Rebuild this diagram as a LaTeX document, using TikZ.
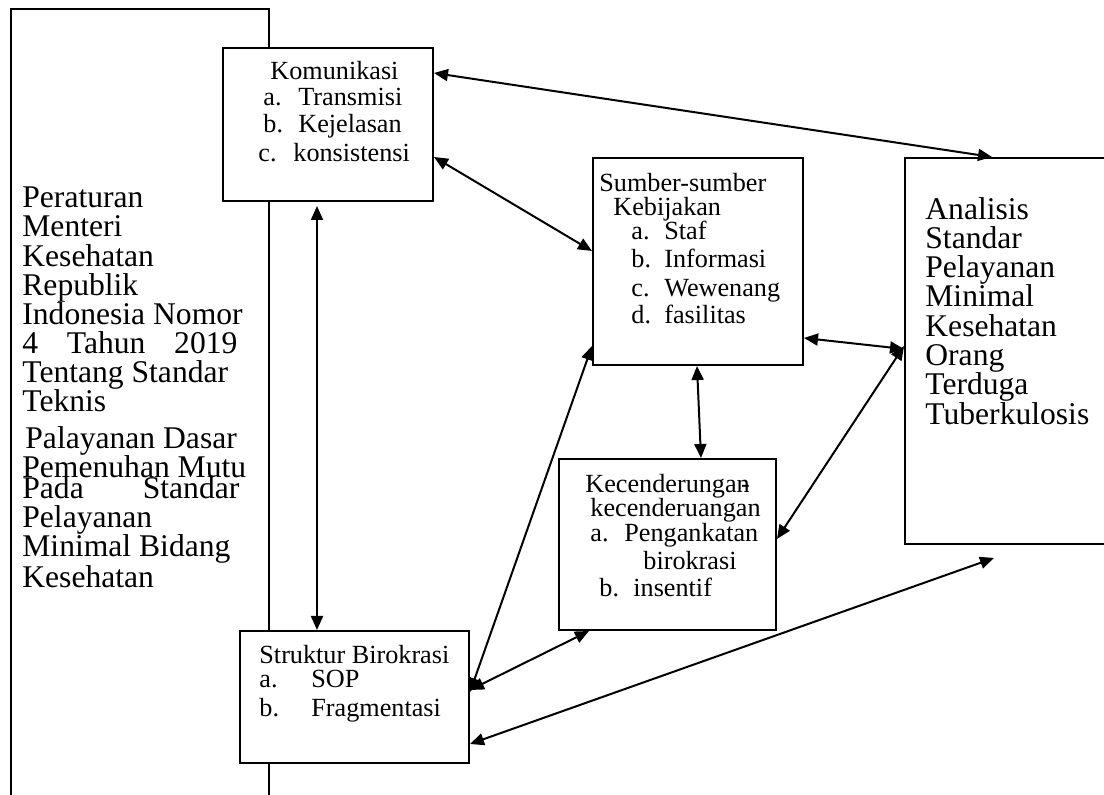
\documentclass[tikz,border=0pt]{standalone}
\usepackage{fontspec}
\setmainfont{Liberation Serif}
\usepackage{tikz}
\usetikzlibrary{arrows.meta}

\tikzset{
  box/.style={draw, fill=white, line width=1pt, inner sep=0pt},
  txt/.style={anchor=base west, inner sep=0pt, font=\fontsize{13.1}{13.5}\selectfont},
  bigtxt/.style={anchor=base west, inner sep=0pt, font=\fontsize{15.8}{16}\selectfont},
  link/.style={line width=1pt, {Triangle[length=7pt,width=6pt]}-{Triangle[length=7pt,width=6pt]}},
}
\newcommand{\lab}[2][17pt]{\makebox[#1][l]{#2}}

\begin{document}
\begin{tikzpicture}[x=0.5pt, y=-0.5pt]
\useasboundingbox (0,0) rectangle (1104,795);
\clip (0,0) rectangle (1104,795);
% frame on the left, open at the bottom
\node[box, fill=none, minimum width=129pt, minimum height=405.5pt] (peraturan) at (140,414.5) {};
\node[box, minimum width=105pt, minimum height=76.5pt] (komunikasi) at (328,124.5) {};
\node[box, minimum width=105pt, minimum height=103.5pt] (sumber) at (698,261.5) {};
\node[box, minimum width=108.5pt, minimum height=85.5pt] (kecenderungan) at (667.5,544.5) {};
\node[box, minimum width=114.5pt, minimum height=66pt] (struktur) at (354.5,697) {};
\node[box, minimum width=110pt, minimum height=193pt] (analisis) at (1015,351) {};

% texts
\foreach \x/\y/\t [count=\i] in {22/208/Peraturan, 22/237/Menteri, 22/267/Kesehatan, 22/296/Republik,
    22/325/Indonesia Nomor, 22/354/{\makebox[107.5pt][s]{4 Tahun 2019}}, 22/383/Tentang Standar, 22/412/Teknis,
    25/449/Palayanan Dasar, 22/478/Pemenuhan Mutu, 22/499/{\makebox[108.5pt][s]{Pada Standar}},
    22/528/Pelayanan, 22/557/Minimal Bidang, 22/588/Kesehatan}
  \node[bigtxt] (kiri\i) at (\x,\y) {\t};
\foreach \y/\t [count=\i] in {220/Analisis, 249/Standar, 278/Pelayanan, 307/Minimal,
    337/Kesehatan, 366/Orang, 395/Terduga, 425/Tuberkulosis}
  \node[bigtxt] (kanan\i) at (925,\y) {\t};
\foreach \x/\y/\t [count=\i] in {270/80/Komunikasi, 263/106/{\lab[17.5pt]{a.}Transmisi},
    263/133/{\lab[17.5pt]{b.}Kejelasan}, 258/162/{\lab[17.5pt]{c.}konsistensi}}
  \node[txt] (kom\i) at (\x,\y) {\t};
\foreach \x/\y/\t [count=\i] in {599/192/Sumber-sumber, 613/216/Kebijakan, 631/240/{\lab[16.5pt]{a.}Staf},
    631/268/{\lab[16.5pt]{b.}Informasi}, 631/297/{\lab[16.5pt]{c.}Wewenang}, 631/324/{\lab[16.5pt]{d.}fasilitas}}
  \node[txt] (sum\i) at (\x,\y) {\t};
\foreach \x/\y/\t [count=\i] in {585/493/{Kecenderungan\llap{-}}, 590/517/kecenderuangan,
    590/542/{\lab{a.}Pengankatan}, 643/570/birokrasi, 599/597/{\lab{b.}insentif}}
  \node[txt] (kec\i) at (\x,\y) {\t};
\foreach \y/\t [count=\i] in {664/Struktur Birokrasi, 688/{\lab[26pt]{a.}SOP}, 717/{\lab[26pt]{b.}Fragmentasi}}
  \node[txt] (str\i) at (259,\y) {\t};

% connectors
\draw[link] ([yshift=-13pt]komunikasi.north east) -- ([xshift=44pt]analisis.north west);
\draw[link] ([yshift=-55pt]komunikasi.north east) -- ([yshift=-47pt]sumber.north west);
\draw[link] ([shift={(47.5pt,-2pt)}]komunikasi.south west) -- ([xshift=39pt]struktur.north west);
\draw[link] ([yshift=10pt]sumber.south west) -- ([yshift=-31pt]struktur.north east);
\draw[link] ([xshift=15.5pt]kecenderungan.south west) -- ([yshift=-30pt]struktur.north east);
\draw[link] ([xshift=52.5pt]sumber.south west) -- ([xshift=71.5pt]kecenderungan.north west);
\draw[link] ([yshift=14pt]sumber.south east) -- ([yshift=-96pt]analisis.north west);
\draw[link] ([yshift=-40.5pt]kecenderungan.north east) -- ([yshift=-94.5pt]analisis.north west);
\coordinate (ujung) at ([shift={(45pt,-6.5pt)}]analisis.south west);
\draw[link] ([yshift=10pt]struktur.south east) -- (ujung);
\end{tikzpicture}
\end{document}
